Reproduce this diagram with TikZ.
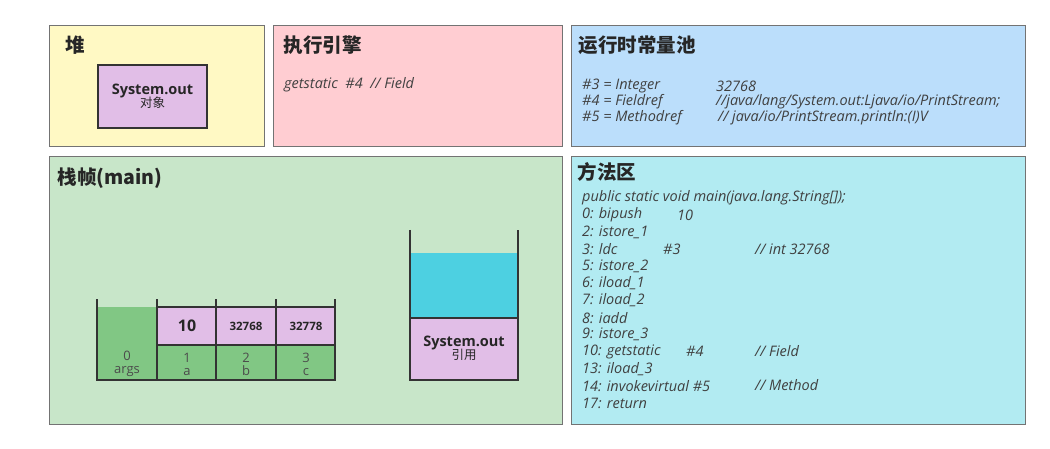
\documentclass[tikz,border=0pt]{standalone}
\usepackage{fontspec}
\setmainfont{Open Sans}
\newfontfamily\cjk{Noto Sans CJK SC}
\begin{document}
\begin{tikzpicture}[x=1pt,y=-1pt,
  panel/.style={draw=gray!90!black,line width=0.9pt},
  cell/.style={draw=black!80,line width=1.2pt},
  ttl/.style={anchor=west,font=\cjk\bfseries\fontsize{19.5}{22}\selectfont,text=black!85},
  code/.style={anchor=west,inner sep=0pt,font=\itshape\fontsize{14.5}{16}\selectfont,text=black!75}]
\useasboundingbox (0,0) rectangle (1050,449);
\definecolor{cy}{HTML}{FFF9C4}\definecolor{cp}{HTML}{FFCDD2}\definecolor{cb}{HTML}{BBDEFB}
\definecolor{cg}{HTML}{C8E6C9}\definecolor{cc}{HTML}{B2EBF2}\definecolor{pu}{HTML}{E1BEE7}
\definecolor{gr}{HTML}{81C784}\definecolor{cyan2}{HTML}{4DD0E1}
\fill[white] (0,0) rectangle (1050,449);
\draw[panel,fill=cy] (49,25) rectangle (264,146);
\draw[panel,fill=cp] (273,25) rectangle (562,146);
\draw[panel,fill=cb] (571,25) rectangle (1025,146);
\draw[panel,fill=cg] (49,156) rectangle (562,424);
\draw[panel,fill=cc] (571,156) rectangle (1025,424);
\node[ttl] (t1) at (62,45) {堆};
\node[ttl] (t2) at (280,45) {执行引擎};
\node[ttl] (t3) at (575,45) {运行时常量池};
\node[ttl] (t4) at (54,178) {栈帧(main)};
\node[ttl] (t5) at (574,172) {方法区};
% heap object
\draw[cell,fill=pu] (98,65) rectangle (207,128);
\node[align=center,font=\bfseries\fontsize{14.5}{16}\selectfont,text=black!85] (so) at (152.5,96) {System.out\\[-3pt]{\cjk\mdseries\fontsize{12.5}{14}\selectfont 对象}};
\node[code] (eng) at (284,85) {getstatic\ \ \#4\ \ // Field};
% pool
\node[code] (pa1) at (582,86) {\#3 = Integer};
\node[code] (pa2) at (582,102) {\#4 = Fieldref};
\node[code] (pa3) at (582,118) {\#5 = Methodref};
\node[code] (pb1) at (716,86) {32768};
\node[code] (pb2) at (716,102) {//java/lang/System.out:Ljava/io/PrintStream;};
\node[code] (pb3) at (718,118) {// java/io/PrintStream.println:(I)V};
% method area
\foreach \t [count=\i from 0] in {public static void main(java.lang.String[]);,0: bipush,2: istore\_1,3: ldc,5: istore\_2,6: iload\_1,7: iload\_2,8: iadd,9: istore\_3,10: getstatic,13: iload\_3,14: invokevirtual \#5,17: return}
  \node[code] (m\i) at (582,{198+\i*17.1}) {\t};
\node[code] (m1b) at (677,215) {10};
\node[code] (m3b) at (663,249) {\#3};
\node[code] (m3c) at (755,249) {// int 32768};
\node[code] (m9b) at (686,351) {\#4};
\node[code] (m9c) at (755,351) {// Field};
\node[code] (m11c) at (755,385) {// Method};
% local vars
\fill[gr] (97,307) rectangle (157,380);
\fill[pu] (157,307) rectangle (335,345);
\fill[gr] (157,345) rectangle (335,380);
\draw[cell] (97,299) -- (97,380) -- (335,380) -- (335,299);
\foreach \x in {157,216,276} \draw[cell] (\x,299) -- (\x,380);
\draw[cell] (157,307) -- (335,307);
\draw[cell] (157,345) -- (335,345);
\node[font=\bfseries\fontsize{16}{18}\selectfont,text=black!85] (v1) at (187,326) {10};
\node[font=\bfseries\fontsize{11.5}{13}\selectfont,text=black!85] (v2) at (246,326) {32768};
\node[font=\bfseries\fontsize{11.5}{13}\selectfont,text=black!85] (v3) at (306,326) {32778};
\foreach \x/\n/\l [count=\i] in {127/0/args,187/1/a,246/2/b,306/3/c}
  \node[align=center,font=\fontsize{13}{15}\selectfont,text=black!70] (l\i) at (\x,364) {\n\\[-2pt]\l};
% operand stack
\fill[cyan2] (410,253) rectangle (518,318);
\fill[pu] (410,318) rectangle (518,380);
\draw[cell] (410,230) -- (410,380) -- (518,380) -- (518,230);
\draw[cell] (410,318) -- (518,318);
\node[align=center,font=\bfseries\fontsize{14.5}{16}\selectfont,text=black!85] (ref) at (464,348) {System.out\\[-3pt]{\cjk\mdseries\fontsize{12.5}{14}\selectfont 引用}};
\end{tikzpicture}
\end{document}
